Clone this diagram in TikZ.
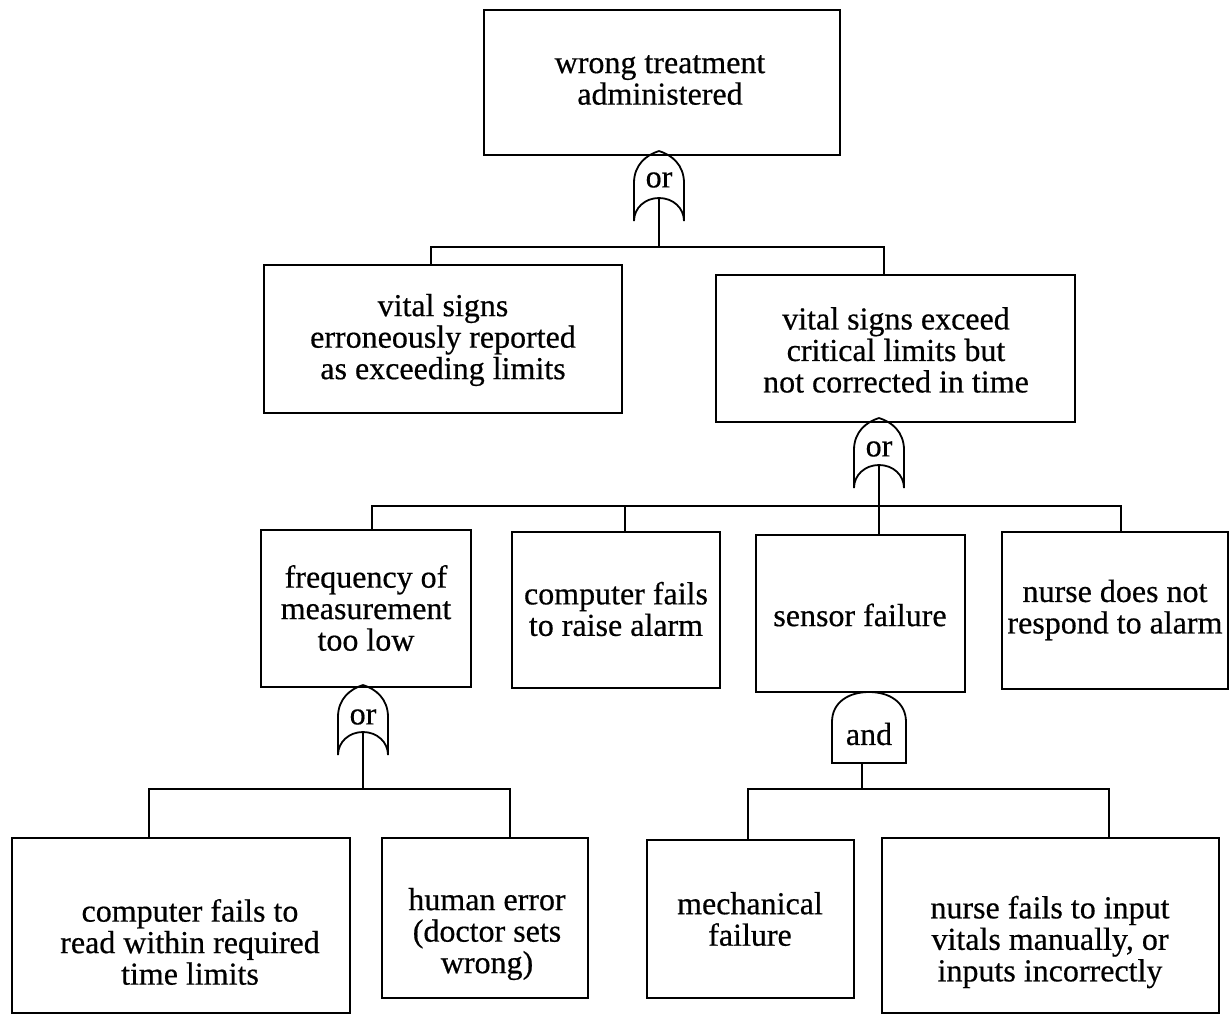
\documentclass[tikz,border=0pt]{standalone}
\usepackage{fontspec}
\setmainfont{Liberation Serif}[FakeBold=0.5]
\begin{document}
\begin{tikzpicture}[x=1pt,y=-1pt,
  box/.style={draw, line width=1.8pt, inner sep=0pt},
  txt/.style={align=center, inner sep=0pt, font=\fontsize{32}{31.5}\selectfont},
  gtxt/.style={inner sep=0pt, font=\fontsize{32}{31.5}\selectfont},
  wire/.style={line width=1.3pt},
  gateline/.style={line width=1.8pt},
  orgate/.pic={
    \draw[gateline] (0,0) .. controls (-13,4) and (-25,14) .. (-25,32) -- (-25,70)
      .. controls (-25,57) and (-14,47) .. (0,47) .. controls (14,47) and (25,57) .. (25,70)
      -- (25,32) .. controls (25,14) and (13,4) .. (0,0);
    \coordinate (-out) at (0,47);
  },
  andgate/.pic={
    \draw[gateline] (-37,71) -- (-37,30) .. controls (-37,10) and (-20,0) .. (0,0)
      .. controls (20,0) and (37,10) .. (37,30) -- (37,71) -- cycle;
    \coordinate (-out) at (-7,71);
  }]
\useasboundingbox (0,0) rectangle (1229,1015);

% boxes
\node[box, minimum width=356pt, minimum height=145pt] (b1) at (662,82.5) {};
\node[box, minimum width=358pt, minimum height=148pt] (b2) at (443,339) {};
\node[box, minimum width=359pt, minimum height=147pt] (b3) at (895.5,348.5) {};
\node[box, minimum width=210pt, minimum height=157pt] (b4) at (366,608.5) {};
\node[box, minimum width=208pt, minimum height=156pt] (b5) at (616,610) {};
\node[box, minimum width=209pt, minimum height=157pt] (b6) at (860.5,613.5) {};
\node[box, minimum width=226pt, minimum height=157pt] (b7) at (1115,610.5) {};
\node[box, minimum width=338pt, minimum height=175pt] (b8) at (181,925.5) {};
\node[box, minimum width=206pt, minimum height=160pt] (b9) at (485,918) {};
\node[box, minimum width=207pt, minimum height=158pt] (b10) at (750.5,919) {};
\node[box, minimum width=337pt, minimum height=175pt] (b11) at (1050.5,925.5) {};

% texts
\node[txt] (t1) at (660,80) {wrong treatment\\administered};
\node[txt] (t2) at (443,340) {vital signs\\erroneously reported\\as exceeding limits};
\node[txt] (t3) at (896,350) {vital signs exceed\\critical limits but\\not corrected in time};
\node[txt] (t4) at (366,608) {frequency of\\measurement\\too low};
\node[txt] (t5) at (616,609) {computer fails\\to raise alarm};
\node[txt] (t6) at (860,615) {sensor failure};
\node[txt] (t7) at (1115,610) {nurse does not\\respond to alarm};
\node[txt] (t8) at (190,942) {computer fails to\\read within required\\time limits};
\node[txt] (t9) at (487,934) {human error\\(doctor sets\\wrong)};
\node[txt] (t10) at (750,919) {mechanical\\failure};
\node[txt] (t11) at (1050,942) {nurse fails to input\\vitals manually, or\\inputs incorrectly};

% gates
\pic (G1) at (659,151) {orgate};
\node[gtxt] (g1) at (659,180) {or};
\pic (G2) at (879,418) {orgate};
\node[gtxt] (g2) at (879,449) {or};
\pic (G3) at (363,685) {orgate};
\node[gtxt] (g3) at (363,717) {or};
\pic (A1) at (869,692) {andgate};
\node[gtxt] (a1) at (869,734) {and};

% connectors
\coordinate (k1) at (659,247);
\draw[wire] (G1-out) -- (k1);
\draw[wire] ([xshift=-12pt]b2.north) |- (k1) -| ([xshift=-11.5pt]b3.north);

\coordinate (k2) at (879,506);
\draw[wire] (G2-out) -- ([xshift=18.5pt]b6.north);
\draw[wire] ([xshift=6pt]b4.north) |- (k2) -| ([xshift=6pt]b7.north);
\draw[wire] ([xshift=9pt]b5.north) -- ([xshift=9pt]b5.north |- k2);

\coordinate (k3) at (363,789);
\draw[wire] (G3-out) -- (k3);
\draw[wire] ([xshift=-32pt]b8.north) |- (k3) -| ([xshift=25pt]b9.north);

\coordinate (k4) at (862,789);
\draw[wire] (A1-out) -- (k4);
\draw[wire] ([xshift=-2.5pt]b10.north) |- (k4) -| ([xshift=58.5pt]b11.north);
\end{tikzpicture}
\end{document}
